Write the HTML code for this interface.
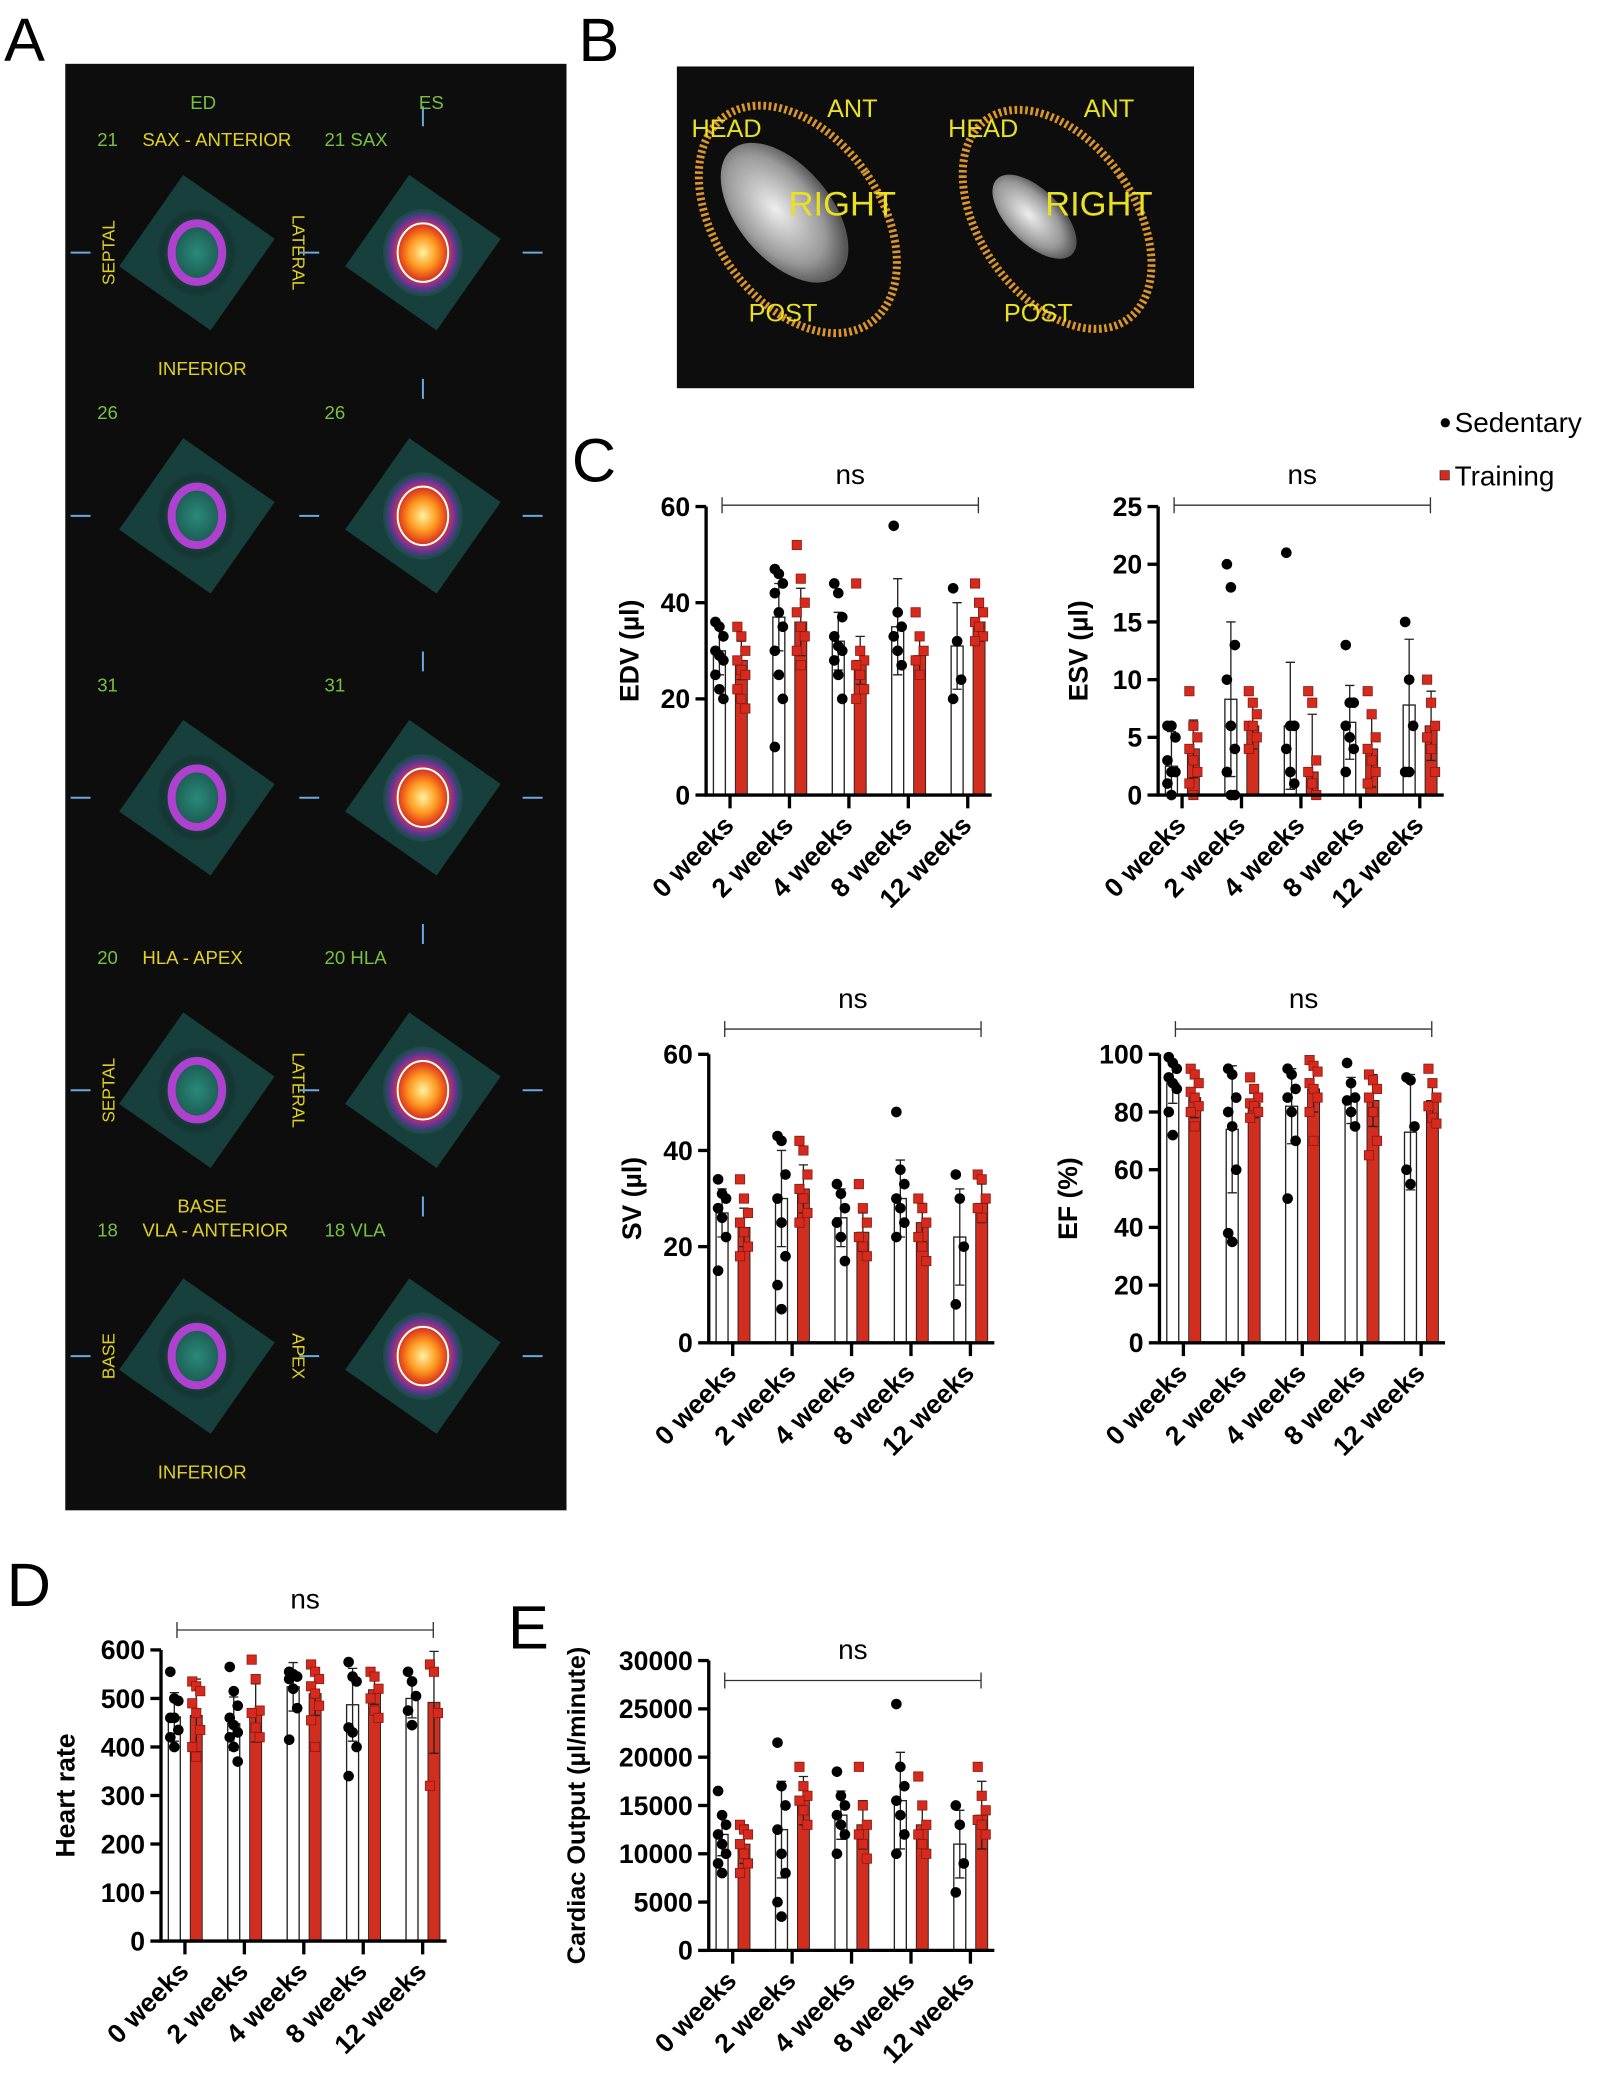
<!DOCTYPE html>
<html><head><meta charset="utf-8"><style>
html,body{margin:0;padding:0;background:#fff;}
svg{display:block;font-family:"Liberation Sans",Arial,sans-serif;}
</style></head><body>
<svg id="fig" width="1605" height="2086" viewBox="0 0 1207 1569" xmlns="http://www.w3.org/2000/svg">
<defs>
<radialGradient id="cold" cx="50%" cy="50%" r="50%"><stop offset="0" stop-color="#2a8a7a"/><stop offset="0.6" stop-color="#1d5d55"/><stop offset="1" stop-color="#0c0c0c" stop-opacity="0"/></radialGradient>
<radialGradient id="hot" cx="50%" cy="50%" r="50%"><stop offset="0" stop-color="#fff2a0"/><stop offset="0.35" stop-color="#ff9a20"/><stop offset="0.6" stop-color="#e0401a"/><stop offset="0.8" stop-color="#7030a0"/><stop offset="1" stop-color="#1d5d55" stop-opacity="0.4"/></radialGradient>
<radialGradient id="shell" cx="45%" cy="45%" r="55%"><stop offset="0" stop-color="#eeeeee"/><stop offset="0.7" stop-color="#999"/><stop offset="1" stop-color="#555"/></radialGradient>
</defs>
<g id="panelA">
<text x="3" y="46" font-size="46">A</text>
<rect x="49" y="48" width="377" height="1088" fill="#0d0d0d"/>
</g>
<g id="panelB">
<text x="435" y="46" font-size="46">B</text>
<rect x="509" y="50" width="389" height="242" fill="#0d0d0d"/>
<ellipse cx="600" cy="165" rx="62" ry="95" transform="rotate(-35 600 165)" fill="none" stroke="#d9952a" stroke-width="6" stroke-dasharray="2 2"/>
<ellipse cx="590" cy="160" rx="35" ry="62" transform="rotate(-40 590 160)" fill="url(#shell)"/>
<ellipse cx="795" cy="165" rx="58" ry="92" transform="rotate(-35 795 165)" fill="none" stroke="#d9952a" stroke-width="6" stroke-dasharray="2 2"/>
<ellipse cx="778" cy="163" rx="20" ry="40" transform="rotate(-45 778 163)" fill="url(#shell)"/>
<g fill="#e8e020" font-size="19">
<text x="520" y="103">HEAD</text><text x="622" y="88">ANT</text><text x="593" y="162" font-size="26">RIGHT</text><text x="563" y="242">POST</text>
<text x="713" y="103">HEAD</text><text x="815" y="88">ANT</text><text x="786" y="162" font-size="26">RIGHT</text><text x="755" y="242">POST</text>
</g>
</g>
<text x="430" y="362" font-size="46">C</text>
<text x="382" y="1240" font-size="46">E</text>
<text x="5" y="1208" font-size="46">D</text>
<g>
<circle cx="1087" cy="318" r="3.5" fill="#000"/>
<text x="1094" y="325" font-size="21">Sedentary</text>
<rect x="1083" y="354" width="7" height="7" fill="#d62a1e" stroke="#222" stroke-width="0.5"/>
<text x="1094" y="365" font-size="21">Training</text>
</g>
<g id="charts"></g>
</svg>
<script>
const categories = ["0 weeks","2 weeks","4 weeks","8 weeks","12 weeks"];
const edvTicks=[0,20,40,60], esvTicks=[0,5,10,15,20,25], svTicks=[0,20,40,60], efTicks=[0,20,40,60,80,100], hrTicks=[0,100,200,300,400,500,600], coTicks=[0,5000,10000,15000,20000,25000,30000];
const edvSedMean=[30,37,32,35,31], edvSedSd=[5,7,6,10,9], edvTrMean=[28,36,28,29,36], edvTrSd=[4,7,5,4,4];
const edvSedPts=[[36,35,33,30,29,28,25,22,20],[47,46,44,42,38,35,30,25,20,10],[44,42,37,33,31,30,28,25,20],[56,38,35,33,30,27],[43,32,24,20]];
const edvTrPts=[[35,33,30,28,26,25,22,20,18],[52,45,40,38,35,33,30,27],[44,30,28,27,25,22,20],[38,33,30,28,25],[44,40,38,36,35,33,32]];
const esvSedMean=[2.5,8.3,6,6.3,7.8], esvSedSd=[3,6.7,5.5,3.2,5.7], esvTrMean=[4,6,2,4,6], esvTrSd=[2.5,2,5,3.3,3];
const esvSedPts=[[6,6,5,3,2,2,1,0],[20,18,13,10,6,4,2,0,0],[21,6,6,4,2,1],[13,8,8,6,5,4,2],[15,10,6,2,2]];
const esvTrPts=[[9,6,5,4,3,2,1,0],[9,8,7,6,6,5,4],[9,8,3,2,1,0],[9,7,5,4,3,2,1],[10,8,6,5,4,2]];
const svSedMean=[27,30,26,30,22], svSedSd=[5,10,6,8,10], svTrMean=[24,32,23,25,29], svTrSd=[4,5,4,4,4];
const svSedPts=[[34,31,30,28,26,22,15],[43,42,35,30,25,18,12,7],[33,31,28,25,22,17],[48,36,33,30,28,25,22],[35,30,20,8]];
const svTrPts=[[34,30,27,25,23,20,18],[42,40,35,32,30,27,25],[33,28,25,22,20,18],[30,28,25,22,20,17],[35,34,30,28,26]];
const efSedMean=[90,74,82,84,73], efSedSd=[7,22,13,8,20], efTrMean=[85,83,88,84,84], efTrSd=[7,5,8,9,7];
const efSedPts=[[99,97,95,92,90,88,80,72],[95,93,85,80,75,60,38,35],[95,93,88,85,80,70,50],[97,90,85,84,80,75],[92,91,75,60,55]];
const efTrPts=[[95,93,90,87,85,82,80,75],[92,88,85,83,82,80,78],[98,96,94,90,88,85,80,70],[93,91,88,85,80,70,65],[95,90,85,82,78,76]];
const hrSedMean=[462,448,524,487,500], hrSedSd=[50,55,50,75,40], hrTrMean=[465,470,510,518,492], hrTrSd=[75,60,45,30,105];
const hrSedPts=[[555,500,495,460,460,435,420,400],[565,515,485,460,445,430,420,400,370],[555,550,545,540,520,480,415],[575,545,535,440,430,400,340],[555,535,505,475,445]];
const hrTrPts=[[535,525,515,490,470,435,400,380],[580,540,475,470,440,420],[570,555,540,525,510,485,455,400],[555,545,520,500,475,460],[570,555,470,320]];
const coSedMean=[12000,12500,14000,15500,11000], coSedSd=[2200,5000,2500,5000,3500], coTrMean=[11000,15500,13000,13000,14000], coTrSd=[2000,2500,2500,2300,3500];
const coSedPts=[[16500,14000,13000,12000,11000,10000,9000,8000],[21500,17000,15000,12500,10000,8000,5000,3500],[18500,16000,15000,14000,13000,12000,10000],[25500,19000,17000,15500,14000,12000,10000],[15000,13000,9000,6000]];
const coTrPts=[[13000,12500,12000,11000,10000,9000,8000],[19000,17000,16000,15500,14500,13000],[19000,15000,13000,12000,11000,9500],[18000,15000,13000,12000,11000,10000],[19000,16000,14500,13500,13000,12000]];

const NS="http://www.w3.org/2000/svg";
const root=document.getElementById('charts');
function mk(tag,attrs,parent){const e=document.createElementNS(NS,tag);for(const k in attrs)e.setAttribute(k,attrs[k]);(parent||root).appendChild(e);return e;}

function chart(cfg){
  const g=mk('g',{});
  
  
  const x0=cfg.x0, yT=cfg.yTop, yB=cfg.yBot, ymax=cfg.ticks[cfg.ticks.length-1];
  const y=v=>yB-(v/ymax)*(yB-yT);
  const gx=i=>x0+10+i*44.7;
  const bw=9;
  // bars
  for(let i=0;i<categories.length;i++){
    const xs=gx(i), xt=gx(i)+16.5;
    const b1=mk('rect',{x:xs-bw/2,y:y(cfg.sm[i]),width:bw,height:yB-y(cfg.sm[i]),fill:'#fff',stroke:'#222','stroke-width':1},g);
    
    
    const b2=mk('rect',{x:xt-bw/2,y:y(cfg.tm[i]),width:bw,height:yB-y(cfg.tm[i]),fill:'#d12e20',stroke:'#222','stroke-width':0.7},g);
    
    
    [[xs,cfg.sm[i],cfg.ss[i]],[xt,cfg.tm[i],cfg.ts[i]]].forEach(([cx,m,s])=>{
      const hi=Math.min(m+s,ymax*1.05), lo=Math.max(m-s,0);
      const eb=mk('path',{d:`M${cx},${y(hi)}V${y(lo)}M${cx-3.5},${y(hi)}H${cx+3.5}M${cx-3.5},${y(lo)}H${cx+3.5}`,stroke:'#222','stroke-width':1,fill:'none'},g);
      
      
    });
    cfg.sp[i].forEach((v,j)=>{
      const off=((j%3)-1)*3;
      const c=mk('circle',{cx:xs+off,cy:y(v),r:4,fill:'#000'},g);
      
      
    });
    cfg.tp[i].forEach((v,j)=>{
      const off=((j%3)-1)*3;
      const r=mk('rect',{x:xt+off-3.5,y:y(v)-3.5,width:7,height:7,fill:'#d62a1e',stroke:'#8a1a10','stroke-width':0.6},g);
      
      
    });
  }
  // axes
  const xEnd=gx(4)+26;
  const ax=mk('path',{d:`M${x0},${yT}V${yB}H${xEnd}`,stroke:'#000','stroke-width':2.5,fill:'none'},g);
  
  
  cfg.ticks.forEach(t=>{
    const tk=mk('path',{d:`M${x0-8},${y(t)}H${x0}`,stroke:'#000','stroke-width':2.5},g);
    
    
    const tl=mk('text',{x:x0-12,y:y(t)+7,'font-size':20,'font-weight':'bold','text-anchor':'end'},g);
    tl.textContent=t;
    
    
  });
  categories.forEach((c,i)=>{
    const tx=gx(i)+8;
    const tk=mk('path',{d:`M${tx},${yB}V${yB+10}`,stroke:'#000','stroke-width':2.5},g);
    
    
    const tl=mk('text',{x:tx+4,y:yB+24,'font-size':20,'font-weight':'bold','text-anchor':'end',transform:`rotate(-45 ${tx+4} ${yB+24})`},g);
    tl.textContent=c;
    
    
  });
  const yt=mk('text',{x:0,y:0,'font-size':cfg.titleSize||20,'font-weight':'bold','text-anchor':'middle',transform:`translate(${cfg.titleX},${(yT+yB)/2}) rotate(-90)`},g);
  yt.textContent=cfg.title;
  
  
  const br=mk('path',{d:`M${gx(0)+2},${cfg.brY-6}V${cfg.brY+6}M${gx(0)+2},${cfg.brY}H${gx(4)+16}M${gx(4)+16},${cfg.brY-6}V${cfg.brY+6}`,stroke:'#333','stroke-width':1,fill:'none'},g);
  
  
  const ns=mk('text',{x:(gx(0)+gx(4)+18)/2,y:cfg.brY-16,'font-size':21,'text-anchor':'middle'},g);
  ns.textContent='ns';
  
  
}
chart({name:'edv-chart',x0:531,yTop:381,yBot:598,ticks:edvTicks,sm:edvSedMean,ss:edvSedSd,tm:edvTrMean,ts:edvTrSd,sp:edvSedPts,tp:edvTrPts,title:'EDV (µl)',titleX:480,brY:380});
chart({name:'esv-chart',x0:871,yTop:381,yBot:598,ticks:esvTicks,sm:esvSedMean,ss:esvSedSd,tm:esvTrMean,ts:esvTrSd,sp:esvSedPts,tp:esvTrPts,title:'ESV (µl)',titleX:818,brY:380});
chart({name:'sv-chart',x0:533,yTop:793,yBot:1010,ticks:svTicks,sm:svSedMean,ss:svSedSd,tm:svTrMean,ts:svTrSd,sp:svSedPts,tp:svTrPts,title:'SV (µl)',titleX:482,brY:774});
chart({name:'ef-chart',x0:872,yTop:793,yBot:1010,ticks:efTicks,sm:efSedMean,ss:efSedSd,tm:efTrMean,ts:efTrSd,sp:efSedPts,tp:efTrPts,title:'EF (%)',titleX:810,brY:774});
chart({name:'heart-rate-chart',x0:121,yTop:1241,yBot:1460,ticks:hrTicks,sm:hrSedMean,ss:hrSedSd,tm:hrTrMean,ts:hrTrSd,sp:hrSedPts,tp:hrTrPts,title:'Heart rate',titleX:56,brY:1226});
chart({name:'cardiac-output-chart',x0:533,yTop:1249,yBot:1467,ticks:coTicks,sm:coSedMean,ss:coSedSd,tm:coTrMean,ts:coTrSd,sp:coSedPts,tp:coTrPts,title:'Cardiac Output (µl/minute)',titleX:440,brY:1264,titleSize:19});

// Panel A hearts
const A=document.getElementById('panelA');
const rows=[[105,190,'21','SAX - ANTERIOR','21 SAX','SEPTAL','LATERAL','INFERIOR'],[310,388,'26','','26','','',''],[515,600,'31','','31','','',''],[720,820,'20','HLA - APEX','20 HLA','SEPTAL','LATERAL','BASE'],[925,1020,'18','VLA - ANTERIOR','18 VLA','BASE','APEX','INFERIOR']];
rows.forEach(r=>{
  [148,318].forEach((cx,k)=>{
    const bg=mk('rect',{x:cx-42,y:r[1]-42,width:84,height:84,fill:'#1a4c48',opacity:0.8,transform:`rotate(35 ${cx} ${r[1]})`},A);
    
    
    const e=mk('ellipse',{cx:cx,cy:r[1],rx:30,ry:33,fill:k?'url(#hot)':'url(#cold)'},A);
    
    
    const ring=mk('ellipse',{cx:cx,cy:r[1],rx:19,ry:22,fill:'none',stroke:k?'#fff':'#b040d0','stroke-width':k?1.5:6},A);
    
    
  });
  const t1=mk('text',{x:73,y:r[0]+5,'font-size':14,fill:'#7ac040'},A); t1.textContent=r[2];
  
  
  const t2=mk('text',{x:107,y:r[0]+5,'font-size':14,fill:'#e0d020'},A); t2.textContent=r[3];
  
  
  const t3=mk('text',{x:244,y:r[0]+5,'font-size':14,fill:'#7ac040'},A); t3.textContent=r[4];
  
  
  if(r[5]){
    const s=mk('text',{x:0,y:0,'font-size':13,fill:'#e0d020','text-anchor':'middle',transform:`translate(86,${r[1]}) rotate(-90)`},A); s.textContent=r[5];
    
    
    const l=mk('text',{x:0,y:0,'font-size':13,fill:'#e0d020','text-anchor':'middle',transform:`translate(220,${r[1]}) rotate(90)`},A); l.textContent=r[6];
    
    
    const b=mk('text',{x:152,y:r[1]+92,'font-size':14,fill:'#e0d020','text-anchor':'middle'},A); b.textContent=r[7];
    
    
  }
  const m=mk('path',{d:`M318,${r[0]-25}V${r[0]-10}M393,${r[1]}H408M225,${r[1]}H240M53,${r[1]}H68`,stroke:'#6aa8e0','stroke-width':1.5},A);
  
  
});
const ed=mk('text',{x:143,y:82,'font-size':14,fill:'#7ac040'},A); ed.textContent='ED';


const es=mk('text',{x:315,y:82,'font-size':14,fill:'#7ac040'},A); es.textContent='ES';


</script>
</body></html>
